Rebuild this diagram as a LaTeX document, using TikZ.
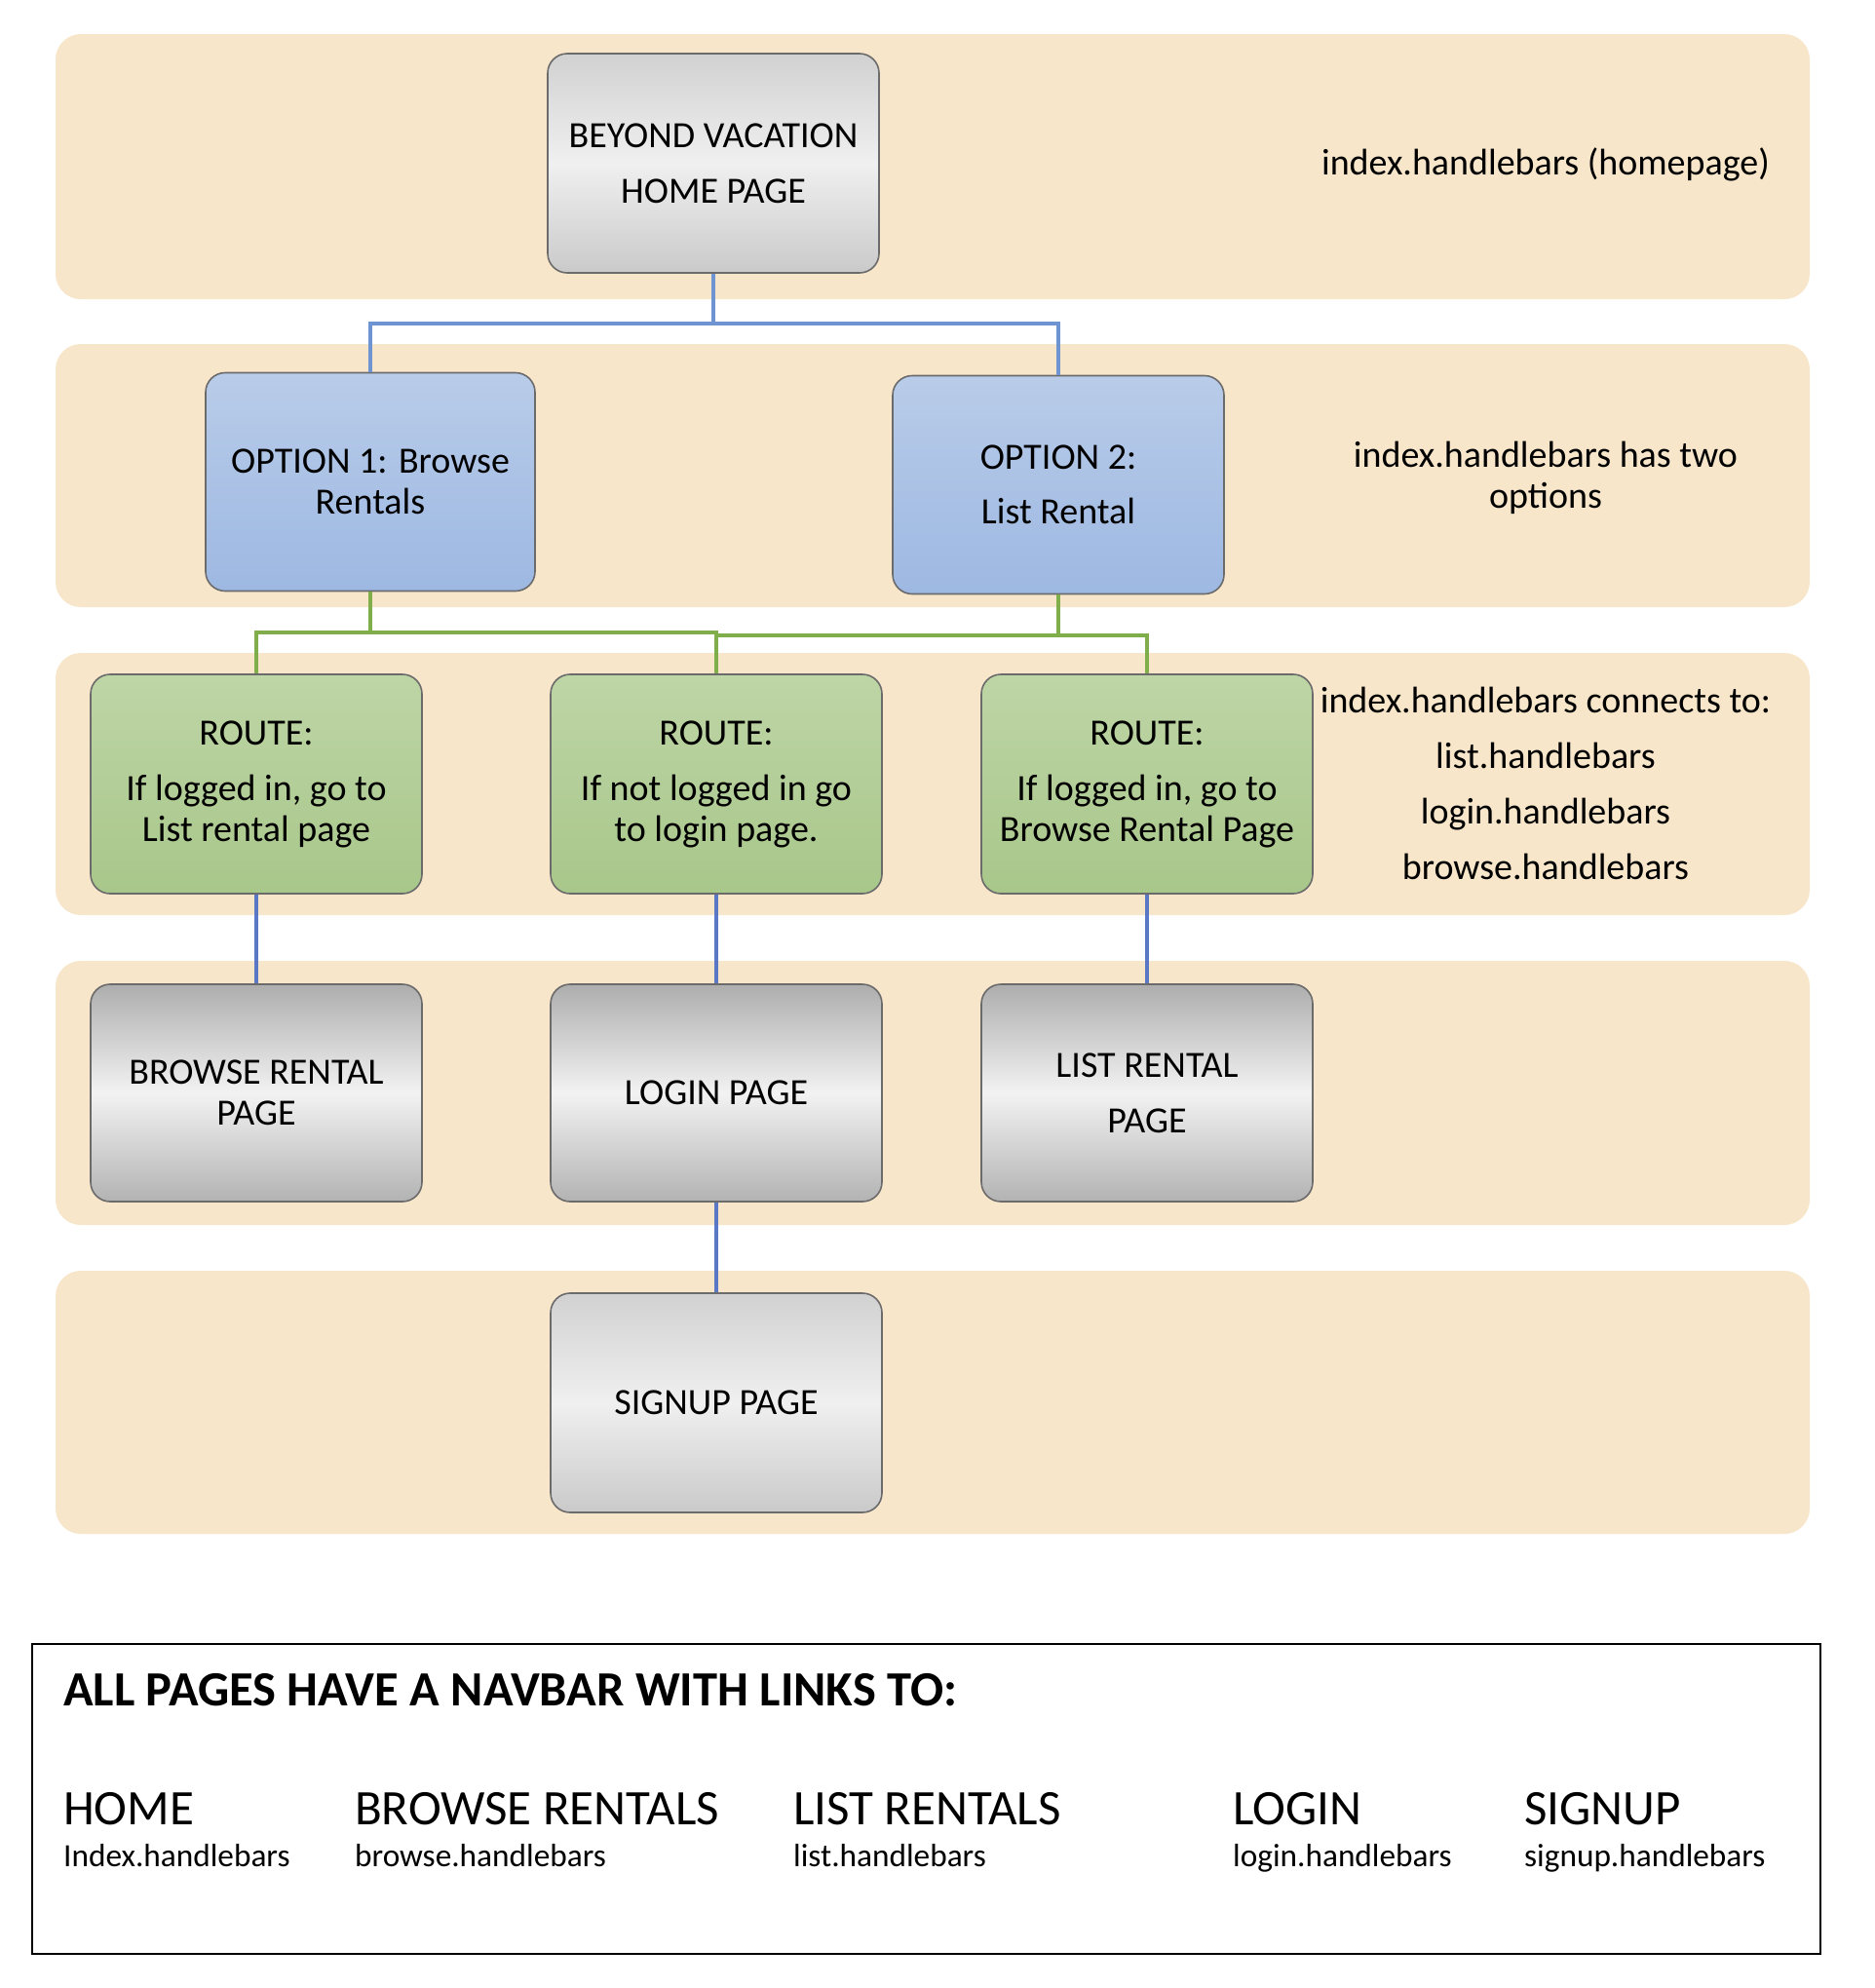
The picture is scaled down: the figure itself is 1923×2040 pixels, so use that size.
\documentclass[tikz,border=0pt]{standalone}
\usepackage{fontspec}
\setmainfont{Carlito}
\definecolor{band}{HTML}{F8E6CA}
\definecolor{boxline}{HTML}{6B6B6B}
\definecolor{blueline}{HTML}{6E95D2}
\definecolor{bluelineB}{HTML}{5B78C6}
\definecolor{greenline}{HTML}{7FAE4A}
\definecolor{blueTop}{HTML}{B9CCE9}
\definecolor{blueBot}{HTML}{9DB8E2}
\definecolor{greenTop}{HTML}{BED5A6}
\definecolor{greenBot}{HTML}{A8C78A}
\begin{document}
\begin{tikzpicture}[x=1pt,y=-1pt,
  bandbox/.style={fill=band,draw=none,rounded corners=26pt},
  basebox/.style={draw=boxline,line width=1.6pt,rounded corners=20pt,
    minimum width=340pt,minimum height=224pt,align=center,
    font=\fontsize{38}{42}\selectfont,inner sep=0pt},
  graybox/.style={basebox,top color=black!18,bottom color=black!21,middle color=black!6},
  graydark/.style={basebox,top color=black!32,bottom color=black!30,middle color=black!5},
  bluebox/.style={basebox,top color=blueTop,bottom color=blueBot},
  greenbox/.style={basebox,top color=greenTop,bottom color=greenBot},
  note/.style={align=center,font=\fontsize{38}{42}\selectfont,inner sep=0pt},
  bconn/.style={draw=blueline,line width=3.5pt},
  bconnB/.style={draw=bluelineB,line width=3.5pt},
  gconn/.style={draw=greenline,line width=3.5pt},
  navhead/.style={anchor=base west,inner sep=0pt,font=\fontsize{51}{60}\selectfont},
  navsub/.style={anchor=base west,inner sep=0pt,font=\fontsize{33.3}{40}\selectfont}
]
\useasboundingbox (0,0) rectangle (1923,2040);
\fill[white] (0,0) rectangle (1923,2040);
% bands
\path[bandbox] (57,35) rectangle (1857,307);
\path[bandbox] (57,353) rectangle (1857,623);
\path[bandbox] (57,670) rectangle (1857,939);
\path[bandbox] (57,986) rectangle (1857,1257);
\path[bandbox] (57,1304) rectangle (1857,1574);
% nodes
\node[graybox,minimum height=225pt] (home) at (732,167.5) {BEYOND VACATION\\[15pt]HOME PAGE};
\node[bluebox,minimum width=338pt] (opt1) at (380,494.5) {OPTION 1: Browse\\Rentals};
\node[bluebox] (opt2) at (1086,497.5) {OPTION 2:\\[14pt]List Rental};
\node[greenbox,minimum height=225pt] (r1) at (263,804.5) {ROUTE:\\[15pt]If logged in, go to\\List rental page};
\node[greenbox,minimum height=225pt] (r2) at (735,804.5) {ROUTE:\\[15pt]If not logged in go\\to login page.};
\node[greenbox,minimum height=225pt] (r3) at (1177,804.5) {ROUTE:\\[15pt]If logged in, go to\\Browse Rental Page};
\node[graydark,minimum height=223pt] (browse) at (263,1121.5) {BROWSE RENTAL\\PAGE};
\node[graydark,minimum height=223pt] (login) at (735,1121.5) {LOGIN PAGE};
\node[graydark,minimum height=223pt] (list) at (1177,1121.5) {LIST RENTAL\\[15pt]PAGE};
\node[graybox,minimum height=225pt] (signup) at (735,1439.5) {SIGNUP PAGE};
% notes
\node[note] (n1) at (1586,169) {index.handlebars (homepage)};
\node[note] (n2) at (1586,490) {index.handlebars has two\\options};
\node[note] (n3) at (1586,804) {index.handlebars connects to:\\[15pt]list.handlebars\\[15pt]login.handlebars\\[15pt]browse.handlebars};
% connectors
\coordinate (hb) at (732,332);
\path[bconn] (home.south) -- (hb) -| (opt1.north);
\path[bconn] (hb) -| (opt2.north);
\coordinate (g1) at (380,649);
\coordinate (g2) at (1086,652);
\path[gconn] (opt1.south) -- (g1) -| (r1.north);
\path[gconn] (g1) -| (r2.north);
\path[gconn] (opt2.south) -- (g2) -| (r2.north);
\path[gconn] (g2) -| (r3.north);
\path[bconnB] (r1.south) -- (browse.north);
\path[bconnB] (r2.south) -- (login.north);
\path[bconnB] (r3.south) -- (list.north);
\path[bconnB] (login.south) -- (signup.north);
% navbar box
\node[draw=black,line width=2.5pt,minimum width=1835pt,minimum height=318pt,inner sep=0pt] (navbox) at (950.5,1846) {};
\node[anchor=base west,inner sep=0pt,font=\fontsize{50.5}{56}\bfseries\selectfont] (navtitle) at (65,1750) {ALL PAGES HAVE A NAVBAR WITH LINKS TO:};
\node[navhead] (h1) at (65,1872) {HOME};
\node[navhead] (h2) at (364,1872) {BROWSE RENTALS};
\node[navhead] (h3) at (814,1872) {LIST RENTALS};
\node[navhead] (h4) at (1265,1872) {LOGIN};
\node[navhead] (h5) at (1564,1872) {SIGNUP};
\node[navsub] (s1) at (65,1915) {Index.handlebars};
\node[navsub] (s2) at (364,1915) {browse.handlebars};
\node[navsub] (s3) at (814,1915) {list.handlebars};
\node[navsub] (s4) at (1265,1915) {login.handlebars};
\node[navsub] (s5) at (1564,1915) {signup.handlebars};
\end{tikzpicture}
\end{document}
